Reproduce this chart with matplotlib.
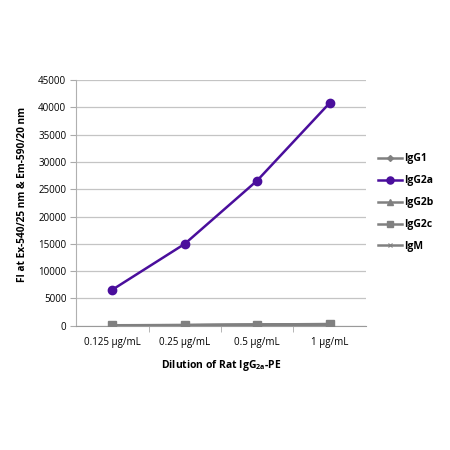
import matplotlib.pyplot as plt
import numpy as np

plt.rcParams['font.family'] = ['Open Sans', 'DejaVu Sans']

categories = ['0.125 µg/mL', '0.25 µg/mL', '0.5 µg/mL', '1 µg/mL']
igg1 = [80, 110, 180, 260]
igg2a = [6600, 15000, 26600, 40800]
igg2b = [90, 120, 200, 290]
igg2c = [100, 140, 230, 330]
igm = [70, 100, 170, 240]

purple = '#4a0e9c'
grey = '#808080'

fig = plt.figure(figsize=(4.5, 4.5), dpi=100)
ax = fig.add_axes([0.169, 0.276, 0.644, 0.546])

x = np.arange(len(categories))
ax.plot(x, igg1, color=grey, lw=1.8, marker='D', ms=3.5, label='IgG1', zorder=3)
ax.plot(x, igg2a, color=purple, lw=1.8, marker='o', ms=6, label='IgG2a', zorder=4)
ax.plot(x, igg2b, color=grey, lw=1.8, marker='^', ms=5, label='IgG2b', zorder=3)
ax.plot(x, igg2c, color=grey, lw=1.8, marker='s', ms=5.5, label='IgG2c', zorder=3)
ax.plot(x, igm, color=grey, lw=1.8, marker='x', ms=4, mew=0.8, label='IgM', zorder=3)

ax.set_xlim(-0.5, 3.5)
ax.set_ylim(0, 45000)
ax.set_yticks(np.arange(0, 45001, 5000))
ax.set_xticks(x)
ax.set_xticklabels(categories, fontsize=7)
ax.set_xticks([0.5, 1.5, 2.5], minor=True)
ax.tick_params(axis='x', which='major', length=0, pad=8)
ax.tick_params(axis='x', which='minor', length=4, color='#aaaaaa')
ax.tick_params(axis='y', labelsize=7, length=4, color='#aaaaaa', pad=3)
ax.grid(axis='y', color='#c4c4c4', lw=0.9)
ax.set_axisbelow(True)

for s in ['top', 'right']:
    ax.spines[s].set_visible(False)
ax.spines['left'].set_color('#b0b0b0')
ax.spines['bottom'].set_color('#9a9a9a')

ax.set_ylabel('FI at Ex-540/25 nm & Em-590/20 nm', fontsize=7.3, fontweight='bold')
ax.yaxis.set_label_coords(-0.165, 0.535)
ax.set_xlabel('Dilution of Rat IgG$_{\\mathregular{2a}}$-PE', fontsize=7.5, fontweight='bold', labelpad=7)

leg = ax.legend(loc='upper left', bbox_to_anchor=(1.01, 0.74), frameon=False,
                prop={'size': 7.5, 'weight': 'bold'}, handlelength=2.3,
                labelspacing=1.05, handletextpad=0.2, markerscale=0.85)

fig.savefig('out.png', dpi=100)
